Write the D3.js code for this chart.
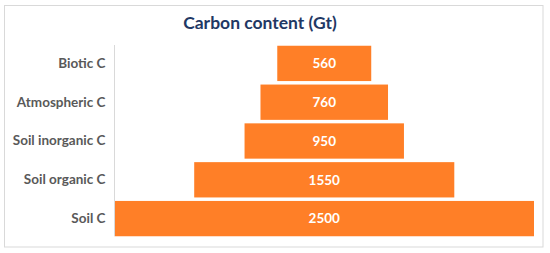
<!DOCTYPE html>
<html><head><meta charset="utf-8">
<script src="https://cdn.jsdelivr.net/npm/d3@7"></script>
<style>body{margin:0;background:#fff;}svg{display:block;}</style>
</head><body>
<script>
const categories = ["Biotic C","Atmospheric C","Soil inorganic C","Soil organic C","Soil C"];
const values = [560,760,950,1550,2500];
const title = "Carbon content (Gt)";

const W=550,H=253;
const svg=d3.select("body").append("svg").attr("width",W).attr("height",H);
svg.append("rect").attr("x",4.5).attr("y",5.5).attr("width",538.5).attr("height",241.5)
  .attr("fill","#fff").attr("stroke","#d9d9d9").attr("stroke-width",1);

const maxV=d3.max(values);
const x=d3.scaleLinear().domain([0,maxV]).range([114.5,534]);
const y=d3.scaleBand().domain(categories).range([44,238]).paddingInner(0.09).paddingOuter(0.045);

svg.append("text").attr("x",260).attr("y",29).attr("text-anchor","middle")
  .attr("font-family","Lato, 'Open Sans', sans-serif").attr("font-weight","bold")
  .attr("font-size","17.5px").attr("fill","#1F3864").text(title);

const g=svg.append("g");
g.selectAll("rect.bar").data(values).join("rect").attr("class","bar")
  .attr("x",(d)=>x((maxV-d)/2))
  .attr("width",d=>x(d)-x(0))
  .attr("y",(d,i)=>y(categories[i]))
  .attr("height",y.bandwidth())
  .attr("fill","#FF7F27");

g.selectAll("text.val").data(values).join("text").attr("class","val")
  .attr("x",d=>x(maxV/2))
  .attr("y",(d,i)=>y(categories[i])+y.bandwidth()/2)
  .attr("dy","0.35em").attr("text-anchor","middle")
  .attr("font-family","Lato, 'Open Sans', sans-serif").attr("font-weight","bold")
  .attr("font-size","13.5px").attr("fill","#fff").text(d=>d);

const axis=d3.axisLeft(y).tickSize(0).tickPadding(9);
const ag=svg.append("g").attr("transform","translate(114.5,0)").call(axis);
ag.select(".domain").attr("stroke","#d9d9d9").attr("d","M0,45V236");
ag.selectAll("text").attr("font-family","Lato, 'Open Sans', sans-serif").attr("font-weight","bold")
  .attr("font-size","13.5px").attr("fill","#595959");
</script>
</body></html>
